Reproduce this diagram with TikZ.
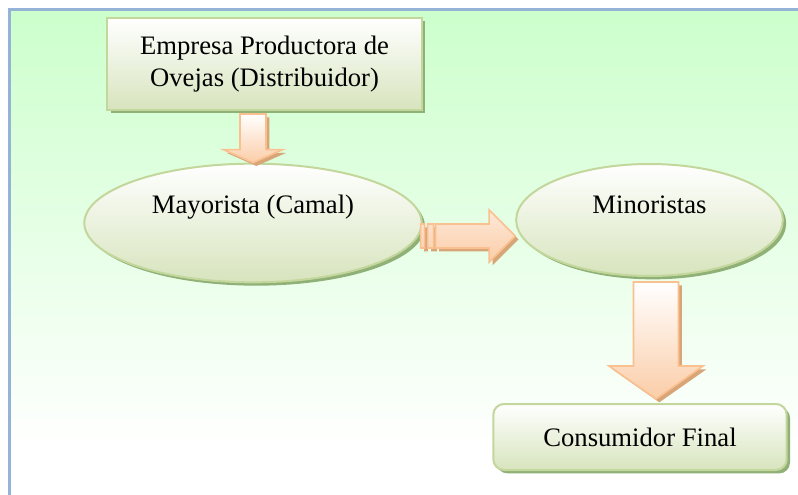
\documentclass[tikz,border=0pt]{standalone}
\usepackage{fontspec}
\setmainfont{Liberation Serif}
\usetikzlibrary{calc,shapes.geometric,shadows}

\definecolor{bggreen}{RGB}{204,255,204}
\definecolor{frameblue}{RGB}{149,179,215}
\definecolor{boxline}{RGB}{195,214,155}
\definecolor{boxbottom}{RGB}{215,228,189}
\definecolor{shadowgreen}{RGB}{143,176,118}
\definecolor{peachline}{RGB}{250,192,144}
\definecolor{peachfill}{RGB}{251,205,168}
\definecolor{peachshadow}{RGB}{215,165,120}

% block arrows: (top)(tip)(shaft:head:head length), sizes in px
\def\blockdown[#1](#2)(#3)(#4:#5:#6){\draw[#1] let \p1=(#2), \p2=(#3) in ({\x1-#4*0.375pt},\y1) -- ({\x1+#4*0.375pt},\y1) -- ({\x1+#4*0.375pt},{\y2+#6*0.75pt}) -- ({\x1+#5*0.375pt},{\y2+#6*0.75pt}) -- (\x1,\y2) -- ({\x1-#5*0.375pt},{\y2+#6*0.75pt}) -- ({\x1-#4*0.375pt},{\y2+#6*0.75pt}) -- cycle;}
\def\blockright[#1](#2)(#3)(#4:#5:#6){\draw[#1] let \p1=(#2), \p2=(#3) in (\x1,{\y1+#4*0.375pt}) -- ({\x2-#6*0.75pt},{\y1+#4*0.375pt}) -- ({\x2-#6*0.75pt},{\y1+#5*0.375pt}) -- (\x2,\y1) -- ({\x2-#6*0.75pt},{\y1-#5*0.375pt}) -- ({\x2-#6*0.75pt},{\y1-#4*0.375pt}) -- (\x1,{\y1-#4*0.375pt}) -- cycle ({\x1-11.25pt},{\y1+#4*0.375pt}) rectangle ({\x1-8.25pt},{\y1-#4*0.375pt}) ({\x1-6pt},{\y1+#4*0.375pt}) rectangle ({\x1-1.5pt},{\y1-#4*0.375pt});}

\tikzset{
  txt/.style={font=\fontsize{20}{24}\selectfont, align=center},
  greenshadow/.style={drop shadow={shadow xshift=2.5pt, shadow yshift=-2.5pt, fill=shadowgreen, opacity=1}},
  greenbox/.style={greenshadow, draw=boxline, line width=1.5pt, top color=white, bottom color=boxbottom, txt},
  greenoval/.style={greenbox, ellipse, inner sep=0pt},
  blockarrow/.style={draw=peachline, line width=1.2pt, top color=white, bottom color=peachfill,
    drop shadow={shadow xshift=2.5pt, shadow yshift=-2.5pt, fill=peachshadow, opacity=1}},
}

\begin{document}
\begin{tikzpicture}[x=0.75pt, y=-0.75pt]
  \useasboundingbox (0,0) rectangle (798,495);

  % background
  \shade[top color=bggreen, bottom color=white] (11,11) rectangle (798,450);
  \draw[line width=2.25pt, frameblue] (9.5,495) -- (9.5,9.5) -- (798,9.5);

  % shapes
  \node[greenbox, minimum width=236pt, minimum height=69pt] (prod) at (264.5,64) {Empresa Productora de\\Ovejas (Distribuidor)};
  \node[greenoval, minimum width=253pt, minimum height=89pt] (may) at (253,223) {};
  \node[txt] (maytxt) at ($(may.center)+(0,-16)$) {Mayorista (Camal)};
  \node[greenoval, minimum width=200pt, minimum height=84pt] (mino) at (649.5,220) {};
  \node[txt] (minotxt) at ($(mino.center)+(0,-15)$) {Minoristas};
  \node[greenbox, rounded corners=8pt, minimum width=220pt, minimum height=49.5pt] (cons) at (640,437) {Consumidor Final};

  % arrows
  \blockdown[blockarrow]($(prod.south -| may.north)+(0,3)$)(may.north)(26:59:13)
  \blockright[blockarrow, top color=peachfill!45]($(may.east)+(13,13)$)(mino.west)(24:52:26)
  \blockdown[blockarrow]($(mino.south)+(6.5,5)$)($(cons.north)+(0,-4)$)(45:94:33)
\end{tikzpicture}
\end{document}
